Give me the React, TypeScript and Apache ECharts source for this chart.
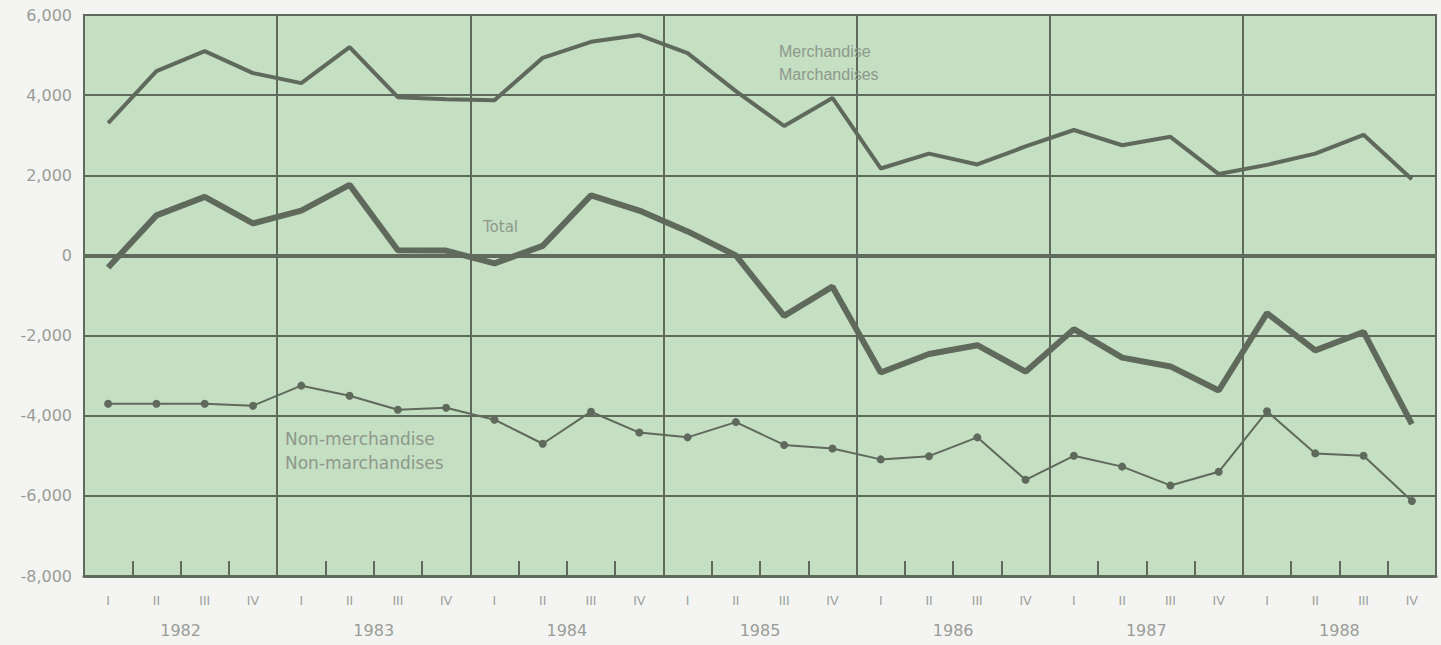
import React, { useEffect, useRef } from "react";
import * as echarts from "echarts";

const years = ["1982", "1983", "1984", "1985", "1986", "1987", "1988"];
const quarterLabels = ["I", "II", "III", "IV"];
const categories = years.flatMap((y) => quarterLabels.map((q) => `${y} ${q}`));

const merchandise = [
  3300, 4600, 5100, 4550, 4300, 5200, 3950, 3900, 3870, 4930, 5330, 5500, 5050, 4100,
  3230, 3930, 2170, 2540, 2270, 2720, 3130, 2750, 2960, 2030, 2260, 2540, 3010, 1900,
];
const total = [
  -300, 1000, 1460, 800, 1120, 1760, 130, 120, -200, 240, 1500, 1120, 600, 0, -1510, -780,
  -2920, -2460, -2240, -2900, -1840, -2550, -2770, -3370, -1440, -2370, -1910, -4210,
];
const nonMerchandise = [
  -3700, -3700, -3700, -3750, -3250, -3500, -3850, -3800, -4100, -4700, -3900, -4420, -4540,
  -4160, -4730, -4820, -5090, -5010, -4540, -5600, -5000, -5270, -5740, -5400, -3890, -4940,
  -5000, -6130,
];

const LINE = "#5f695c";
const GREEN = "#c4dfc2";
const LABEL = "#9a9c98";
const NOTE = "#8e988c";

export default function App() {
  const ref = useRef<HTMLDivElement>(null);
  useEffect(() => {
    if (!ref.current) return;
    const chart = echarts.init(ref.current, null, { renderer: "svg" });
    chart.setOption({
      animation: false,
      backgroundColor: "#f4f5f2",
      grid: {
        left: 84,
        right: 5,
        top: 15,
        bottom: 69,
        show: true,
        backgroundColor: GREEN,
        borderColor: LINE,
        borderWidth: 2,
      },
      xAxis: [
        {
          type: "category",
          data: categories,
          boundaryGap: true,
          axisLine: { show: true, onZero: false, lineStyle: { color: LINE, width: 3 } },
          axisTick: {
            show: true,
            inside: true,
            length: 15,
            interval: 0,
            lineStyle: { color: LINE, width: 2 },
          },
          axisLabel: {
            interval: 0,
            margin: 18,
            color: LABEL,
            fontFamily: "Liberation Sans",
            fontSize: 13,
            formatter: (v: string) => v.split(" ")[1],
          },
          splitLine: { show: false },
        },
        {
          type: "category",
          data: years,
          position: "bottom",
          boundaryGap: true,
          axisLine: { show: false, onZero: false },
          axisTick: { show: false },
          axisLabel: {
            interval: 0,
            margin: 46,
            color: LABEL,
            fontFamily: "DejaVu Sans",
            fontSize: 16,
          },
          splitLine: { show: true, interval: 0, lineStyle: { color: LINE, width: 2 } },
        },
      ],
      yAxis: {
        type: "value",
        min: -8000,
        max: 6000,
        interval: 2000,
        axisLine: { show: true, lineStyle: { color: LINE, width: 2 } },
        axisTick: { show: false },
        axisLabel: {
          margin: 12,
          color: LABEL,
          fontFamily: "DejaVu Sans",
          fontSize: 16,
          formatter: (v: number) => v.toLocaleString("en-US"),
        },
        splitLine: { show: true, lineStyle: { color: LINE, width: 2 } },
      },
      series: [
        {
          name: "Merchandise",
          type: "line",
          data: merchandise,
          showSymbol: false,
          symbol: "none",
          lineStyle: { color: LINE, width: 4 },
          z: 3,
        },
        {
          name: "Total",
          type: "line",
          data: total,
          showSymbol: false,
          symbol: "none",
          lineStyle: { color: LINE, width: 6 },
          markLine: {
            silent: true,
            symbol: "none",
            label: { show: false },
            lineStyle: { color: LINE, width: 4, type: "solid" },
            data: [{ yAxis: 0 }],
          },
          z: 3,
        },
        {
          name: "Non-merchandise",
          type: "line",
          data: nonMerchandise,
          symbol: "circle",
          symbolSize: 8,
          showSymbol: true,
          itemStyle: { color: LINE },
          lineStyle: { color: LINE, width: 2 },
          z: 3,
        },
      ],
      graphic: [
        {
          type: "text",
          left: 779,
          top: 40,
          style: {
            text: "Merchandise\nMarchandises",
            fill: NOTE,
            font: "16px 'Liberation Sans'",
            lineHeight: 23,
          },
          z: 10,
        },
        {
          type: "text",
          left: 483,
          top: 219,
          style: { text: "Total", fill: NOTE, font: "15px 'DejaVu Sans'" },
          z: 10,
        },
        {
          type: "text",
          left: 285,
          top: 427,
          style: {
            text: "Non-merchandise\nNon-marchandises",
            fill: NOTE,
            font: "17px 'DejaVu Sans'",
            lineHeight: 24,
          },
          z: 10,
        },
      ],
    });
    return () => chart.dispose();
  }, []);
  return (
    <div
      ref={ref}
      style={{ position: "fixed", left: 0, top: 0, width: 1441, height: 645 }}
    />
  );
}
